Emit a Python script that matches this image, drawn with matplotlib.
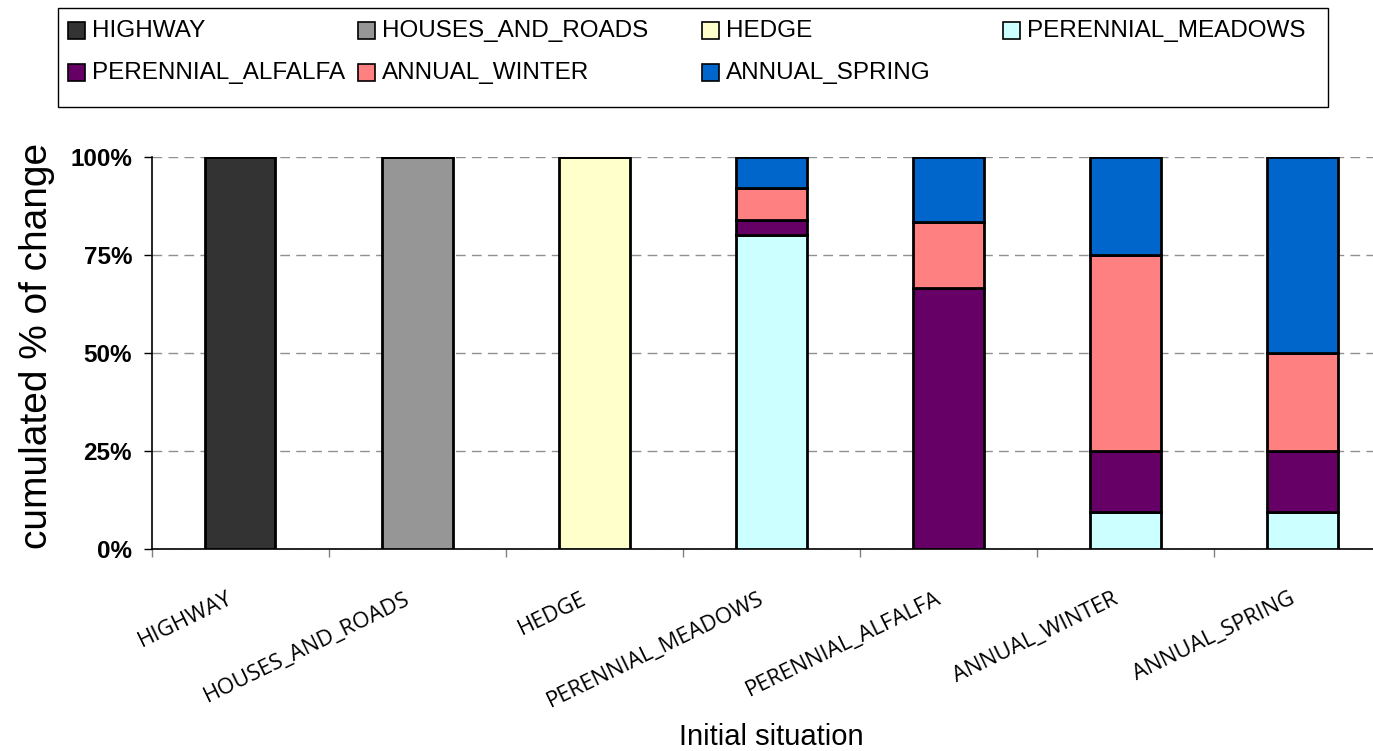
import matplotlib
matplotlib.use('Agg')
import matplotlib.pyplot as plt
from matplotlib.patches import Rectangle
import numpy as np

# initial land use (x axis) and share of each new land use after change
situations = ['HIGHWAY', 'HOUSES_AND_ROADS', 'HEDGE', 'PERENNIAL_MEADOWS',
              'PERENNIAL_ALFALFA', 'ANNUAL_WINTER', 'ANNUAL_SPRING']
series = ['HIGHWAY', 'HOUSES_AND_ROADS', 'HEDGE', 'PERENNIAL_MEADOWS',
          'PERENNIAL_ALFALFA', 'ANNUAL_WINTER', 'ANNUAL_SPRING']
colors = ['#333333', '#969696', '#FFFFCC', '#CCFFFF',
          '#660066', '#FF8080', '#0066CC']

highway = [1.0, 0, 0, 0, 0, 0, 0]
houses_and_roads = [0, 1.0, 0, 0, 0, 0, 0]
hedge = [0, 0, 1.0, 0, 0, 0, 0]
perennial_meadows = [0, 0, 0, 0.80, 0, 0.094, 0.094]
perennial_alfalfa = [0, 0, 0, 0.04, 0.667, 0.156, 0.156]
annual_winter = [0, 0, 0, 0.08, 0.167, 0.50, 0.25]
annual_spring = [0, 0, 0, 0.08, 0.166, 0.25, 0.50]
shares = [highway, houses_and_roads, hedge, perennial_meadows,
          perennial_alfalfa, annual_winter, annual_spring]

W, H = 1373, 751
fig = plt.figure(figsize=(W / 100, H / 100), dpi=100)
ax = fig.add_axes([151.5 / W, 1 - 549 / H, (1391 - 151.5) / W, (549 - 157) / H])

x = np.arange(len(situations))
bottom = np.zeros(len(situations))
for vals, col in zip(shares, colors):
    vals = np.array(vals)
    ax.bar(x, vals, width=0.4, bottom=bottom, color=col, edgecolor='black',
           linewidth=2.0, zorder=3)
    bottom += vals

ax.set_xlim(-0.5, len(situations) - 0.5)
ax.set_ylim(0, 1)
ax.set_yticks([0, 0.25, 0.5, 0.75, 1.0])
ax.set_yticklabels(['0%', '25%', '50%', '75%', '100%'],
                   fontfamily='Liberation Sans', fontweight='bold', fontsize=17.5)
ax.yaxis.grid(True, linestyle=(0, (7, 4.5)), color='#909090', linewidth=1.0, zorder=0)
ax.tick_params(axis='y', length=6, width=1, pad=8)

# category labels sit between the boundary ticks
ax.set_xticks(np.arange(len(situations) + 1) - 0.5)
ax.set_xticklabels([])
ax.tick_params(axis='x', length=6, width=1, color='#808080')
for xi, name in zip(x, situations):
    ax.text(xi - 0.075, -0.1, name, rotation=26, rotation_mode='anchor',
            ha='right', va='top', fontsize=16, fontfamily='Open Sans',
            transform=ax.get_xaxis_transform())

for s in ['top', 'right']:
    ax.spines[s].set_visible(False)
ax.spines['left'].set_linewidth(1.2)
ax.spines['bottom'].set_linewidth(1.2)

fig.text(37 / W, 1 - 346 / H, 'cumulated % of change', rotation=90,
         ha='center', va='center', fontsize=28, fontfamily='Liberation Sans')
fig.text(771 / W, 1 - 737 / H, 'Initial situation', ha='center', va='center',
         fontsize=21, fontfamily='Liberation Sans')

# legend box above the chart
fig.patches.append(Rectangle((58 / W, 1 - 107 / H), (1328 - 58) / W, 99 / H,
                             transform=fig.transFigure, facecolor='white',
                             edgecolor='black', linewidth=1.0))
col_x = [68, 358, 702, 1003]
row_y = [31, 73]
for i, (name, col) in enumerate(zip(series, colors)):
    cx = col_x[i % 4]
    cy = row_y[i // 4]
    fig.patches.append(Rectangle((cx / W, 1 - (cy + 8) / H), 17 / W, 17 / H,
                                 transform=fig.transFigure, facecolor=col,
                                 edgecolor='black', linewidth=1.2))
    fig.text((cx + 24) / W, 1 - cy / H, name, ha='left', va='center',
             fontsize=17.5, fontfamily='Liberation Sans')

fig.savefig('out.png', dpi=100)
